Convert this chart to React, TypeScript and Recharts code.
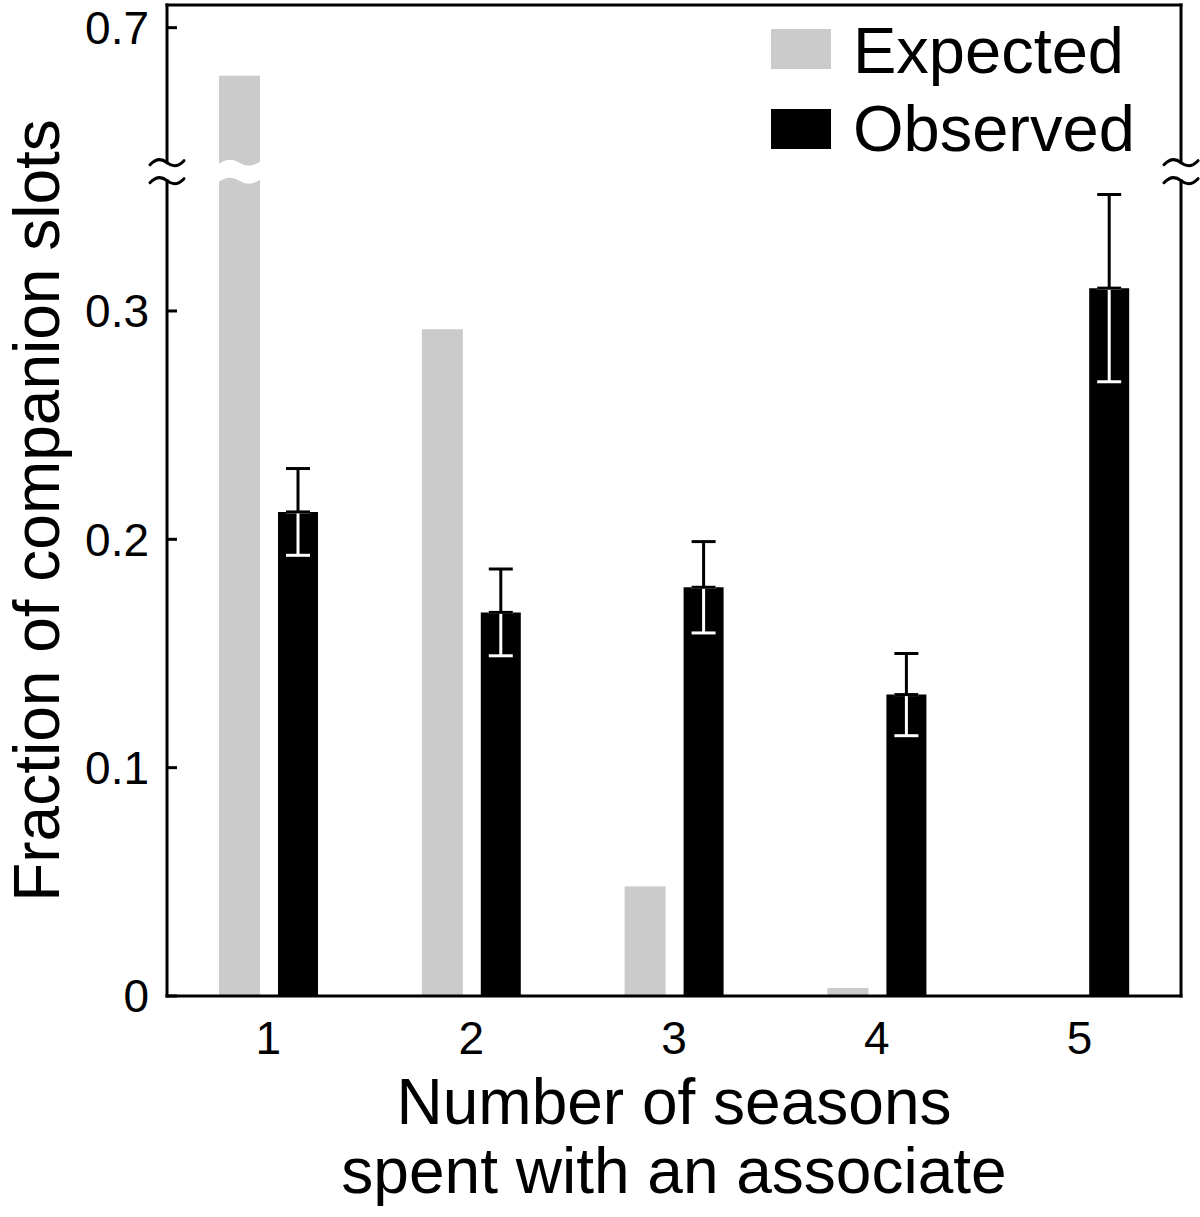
import { BarChart, Bar, XAxis, YAxis, ErrorBar, ReferenceArea, Legend } from "recharts"

const seasons = ["1", "2", "3", "4", "5"]
const expected = [0.657, 0.292, 0.048, 0.0035, 0]
const observed = [0.212, 0.168, 0.179, 0.132, 0.31]
const observedErr = [0.019, 0.019, 0.02, 0.018, 0.041]
const yTickValues = [0, 0.1, 0.2, 0.3, 0.7]

// broken y axis: 0..BREAK_LO drawn as is, then it jumps to BREAK_HI and runs compressed
const BREAK_LO = 0.361
const BREAK_HI = 0.571
const UPPER_SCALE = 0.489
const Y_TOP = 0.434

const toDisplay = (v: number) => (v <= BREAK_LO ? v : BREAK_LO + (v - BREAK_HI) * UPPER_SCALE)
const fromDisplay = (d: number) => (d <= BREAK_LO + 1e-9 ? d : BREAK_HI + (d - BREAK_LO) / UPPER_SCALE)

const data = seasons.map((s, i) => ({
  season: s,
  expectedD: toDisplay(expected[i]),
  observedD: toDisplay(observed[i]),
  errLow: [observedErr[i], 0],
  errHigh: [0, observedErr[i]],
}))

const FONT = "'Liberation Sans', Arial, Helvetica, sans-serif"
const GREY = "#cbcbcb"
const TICK_FONT = 46

const tilde = (cx: number, cy: number) =>
  `M${cx - 17},${cy + 2} Q${cx - 8.5},${cy - 7} ${cx},${cy} Q${cx + 8.5},${cy + 7} ${cx + 17},${cy - 2}`

const wavyBand = (x: number, w: number, cy: number) => {
  const a = cy - 9
  const b = cy + 9
  return (
    `M${x},${a + 2} Q${x + w / 4},${a - 7} ${x + w / 2},${a} Q${x + (3 * w) / 4},${a + 7} ${x + w},${a - 2} ` +
    `L${x + w},${b - 2} Q${x + (3 * w) / 4},${b + 7} ${x + w / 2},${b} Q${x + w / 4},${b - 7} ${x},${b + 2} Z`
  )
}

function ExpectedBar(props: any) {
  const { x, y, width, height, fill, payload } = props
  if (!height || height <= 0) return null
  const bottom = y + height
  let band = null
  if (payload.expectedD > BREAK_LO) {
    const by = bottom - (BREAK_LO / payload.expectedD) * height
    band = <path d={wavyBand(x - 1, width + 2, by)} fill="#fff" />
  }
  return (
    <g>
      <rect x={x} y={y} width={width} height={height} fill={fill} />
      {band}
    </g>
  )
}

// box around the plot, with the break marks on both sides
function Frame(props: any) {
  const { x, y, width, height } = props
  const left = x
  const right = x + width
  const top = y
  const bottom = y + height
  const by = bottom - (BREAK_LO / Y_TOP) * height
  return (
    <g stroke="#000" strokeWidth={3} fill="none" strokeLinecap="square">
      <line x1={left} y1={top} x2={right} y2={top} />
      <line x1={left} y1={bottom} x2={right} y2={bottom} />
      <line x1={left} y1={top} x2={left} y2={by - 9} />
      <line x1={left} y1={by + 9} x2={left} y2={bottom} />
      <line x1={right} y1={top} x2={right} y2={by - 9} />
      <line x1={right} y1={by + 9} x2={right} y2={bottom} />
      <path d={tilde(left, by - 9)} strokeLinecap="round" />
      <path d={tilde(left, by + 9)} strokeLinecap="round" />
      <path d={tilde(right, by - 9)} strokeLinecap="round" />
      <path d={tilde(right, by + 9)} strokeLinecap="round" />
    </g>
  )
}

const renderLegend = () => (
  <svg width={430} height={170} style={{ display: "block" }}>
    <rect x={21} y={29} width={60} height={40} fill={GREY} />
    <text x={103} y={73} fontSize={65} fontFamily={FONT} fill="#000">
      Expected
    </text>
    <rect x={21} y={109} width={60} height={40} fill="#000" />
    <text x={103} y={151} fontSize={65} fontFamily={FONT} fill="#000">
      Observed
    </text>
  </svg>
)

const yLabel = (p: any) => {
  const vb = p.viewBox || { x: 107, y: 5, width: 60, height: 991 }
  const lx = vb.x - 48
  const ly = vb.y + vb.height / 2 + 10
  return (
    <text x={lx} y={ly} transform={`rotate(-90 ${lx} ${ly})`} textAnchor="middle" fontSize={64} fontFamily={FONT} fill="#000">
      Fraction of companion slots
    </text>
  )
}

const xLabel = (p: any) => {
  const vb = p.viewBox || { x: 167, y: 996, width: 1014, height: 60 }
  const cx = vb.x + vb.width / 2
  return (
    <text textAnchor="middle" fontSize={64} fontFamily={FONT} fill="#000">
      <tspan x={cx} y={vb.y + 128}>Number of seasons</tspan>
      <tspan x={cx} y={vb.y + 197}>spent with an associate</tspan>
    </text>
  )
}

const formatY = (d: number) => {
  const v = fromDisplay(d)
  return Math.abs(v) < 1e-9 ? "0" : v.toFixed(1)
}

export default function App() {
  return (
    <div style={{ width: 1200, height: 1217, background: "#fff" }}>
      <style>{`body{margin:0;}`}</style>
      <BarChart
        width={1200}
        height={1217}
        data={data}
        margin={{ top: 5, right: 0, bottom: 161, left: 107 }}
        barGap={18}
      >
        <XAxis
          dataKey="season"
          interval={0}
          height={60}
          axisLine={false}
          tickLine={false}
          tickSize={10}
          tickMargin={15}
          tick={{ fill: "#000", fontSize: TICK_FONT, fontFamily: FONT }}
          label={xLabel}
        />
        <YAxis
          type="number"
          width={60}
          domain={[0, Y_TOP]}
          allowDataOverflow
          ticks={yTickValues.map(toDisplay)}
          interval={0}
          tickFormatter={formatY}
          axisLine={false}
          tickLine={{ stroke: "#000", strokeWidth: 3 }}
          tickSize={-10}
          tickMargin={28}
          tick={{ fill: "#000", fontSize: TICK_FONT, fontFamily: FONT }}
          label={yLabel}
        />
        <YAxis
          yAxisId="right"
          orientation="right"
          type="number"
          width={19}
          domain={[0, Y_TOP]}
          allowDataOverflow
          ticks={yTickValues.map(toDisplay)}
          interval={0}
          axisLine={false}
          tickLine={{ stroke: "#000", strokeWidth: 3 }}
          tickSize={-10}
          tick={false}
        />
        <Legend
          verticalAlign="middle"
          layout="horizontal"
          wrapperStyle={{ top: 0, left: 750, width: 430, height: 170 }}
          content={renderLegend}
        />
        <Bar dataKey="expectedD" name="Expected" fill={GREY} barSize={41} shape={ExpectedBar} isAnimationActive={false} />
        <Bar dataKey="observedD" name="Observed" fill="#000" barSize={40} isAnimationActive={false}>
          <ErrorBar dataKey="errLow" width={12} strokeWidth={3} stroke="#fff" direction="y" isAnimationActive={false} />
          <ErrorBar dataKey="errHigh" width={12} strokeWidth={3} stroke="#000" direction="y" isAnimationActive={false} />
        </Bar>
        <ReferenceArea y1={0} y2={Y_TOP} ifOverflow="visible" shape={Frame} zIndex={2000} />
      </BarChart>
    </div>
  )
}
